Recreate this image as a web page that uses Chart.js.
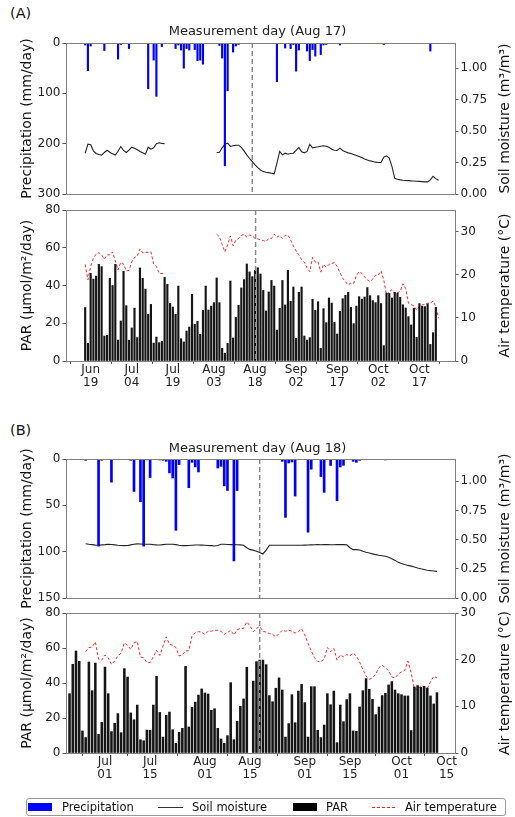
<!DOCTYPE html>
<html>
<head>
<meta charset="utf-8">
<script src="https://cdn.jsdelivr.net/npm/chart.js@4.4.0/dist/chart.umd.min.js"></script>
<style>
body { margin:0; background:#fff; width:515px; height:817px; position:relative; overflow:hidden; font-family:"DejaVu Sans", sans-serif; }
canvas { position:absolute; left:0; }
.lab { position:absolute; font-size:14.5px; color:#111; line-height:17px; }
#legend { position:absolute; left:26px; top:798px; width:478px; height:16px; border:1px solid #999; border-radius:3px; font-size:11.5px; line-height:16px; color:#111; }
#legend span { position:absolute; }
</style>
</head>
<body>
<div class="lab" style="left:10px;top:5px">(A)</div>
<div class="lab" style="left:10px;top:422px">(B)</div>
<canvas id="aTop" width="515" height="204" style="top:0px"></canvas>
<canvas id="aBot" width="515" height="201" style="top:200px"></canvas>
<canvas id="bTop" width="515" height="208" style="top:400px"></canvas>
<canvas id="bBot" width="515" height="190" style="top:603px"></canvas>
<div id="legend">
  <span style="left:1px;top:4px;width:24px;height:8px;background:#0000ff"></span>
  <span style="left:35px;top:0px">Precipitation</span>
  <span style="left:131px;top:8px;width:25px;height:0;border-top:1px solid #333"></span>
  <span style="left:165px;top:0px">Soil moisture</span>
  <span style="left:266px;top:4px;width:24px;height:8px;background:#000"></span>
  <span style="left:299px;top:0px">PAR</span>
  <span style="left:345px;top:7.5px;width:23px;height:1.5px;background:repeating-linear-gradient(90deg,#ff2020 0,#ff2020 3px,transparent 3px,transparent 5px)"></span>
  <span style="left:378px;top:0px">Air temperature</span>
</div>
<script>
// days counted from Jun 1 (= 1)

// ---- panel A ----
var xTicksA = [19, 34, 49, 64, 79, 94, 109, 124, 139];
var xLabelsA = ['Jun 19', 'Jul 04', 'Jul 19', 'Aug 03', 'Aug 18', 'Sep 02', 'Sep 17', 'Oct 02', 'Oct 17'];

var precipDaysA = [17, 18, 19, 24, 29, 30, 33, 40, 42, 43, 45, 50, 51, 52, 53, 54, 55, 57, 58, 59, 60, 66, 67, 68, 69, 71, 72, 73, 87, 90, 92, 93, 94, 95, 98, 99, 100, 101, 103, 104, 105, 110, 126, 143];
var precipA = [4, 55, 6, 15, 32, 3, 11, 91, 34, 106, 7, 11, 4, 14, 50, 11, 14, 13, 35, 34, 42, 5, 30, 244, 95, 18, 6, 3, 77, 10, 11, 3, 56, 14, 16, 35, 13, 26, 23, 4, 3, 4, 3, 16];

// soil moisture, day 17 onwards
var soilA = [0.324, 0.396, 0.391, 0.343, 0.322, 0.314, 0.309, 0.33, 0.348, 0.332,
  0.319, 0.309, 0.34, 0.378, 0.346, 0.33, 0.348, 0.372, 0.364, 0.351,
  0.338, 0.327, 0.316, 0.372, 0.356, 0.367, 0.399, 0.407, 0.402, 0.399,
  null, null, null, null, null, null, null, null, null, null,
  null, null, null, null, null, null, null, null,
  0.33, 0.332, 0.367, 0.396, 0.404, 0.378, 0.383, 0.388, 0.388, 0.37,
  0.343, 0.311, 0.282, 0.258, 0.231, 0.21, 0.191, 0.178, 0.173, 0.17,
  0.165, 0.16, 0.245, 0.338, 0.311, 0.324, 0.316, 0.322, 0.324, 0.346,
  0.37, 0.335, 0.327, 0.338, 0.394, 0.367, 0.372, 0.375, 0.38, 0.383,
  0.38, 0.372, 0.356, 0.348, 0.346, 0.364, 0.346, 0.335, 0.327, 0.322,
  0.314, 0.306, 0.298, 0.29, 0.279, 0.271, 0.263, 0.258, 0.253, 0.25,
  0.25, 0.293, 0.303, 0.285, 0.218, 0.125, 0.117, 0.112, 0.109, 0.107,
  0.106, 0.104, 0.103, 0.101, 0.1, 0.098, 0.096, 0.096, 0.112, 0.141,
  0.122, 0.109];

// PAR, day 17 onwards
var parA = [28.3, 9.4, 46.4, 43.4, 45, 51.2, 50, 13.2, 13.6, 43.8,
  40, 51.2, 11.1, 21.2, 47.5, 29.3, 11, 17.5, 28, 12.4,
  49.3, 43.8, 38.1, 24.7, 30, 9.5, 12.7, 9.7, 10.4, 44.3,
  40.6, 30.5, 28.6, 24.7, 39.7, 11.8, 10.1, 15.9, 18, 35.3,
  19.4, 21, 14.1, 26.8, 39.7, 27, 29.1, 30.9, 44, 30.9,
  6.7, 4.1, 9.4, 42.4, 12.2, 23.1, 29.5, 38.7, 43.1, 51.4,
  47.2, 44.7, 48, 49.4, 46.1, 37.4, 26.5, 36.6, 42.7, 39.7,
  16.4, 27.9, 42.7, 29.7, 48, 31.6, 39.2, 12, 36.4, 39.2,
  13.2, 11.1, 12.4, 32.7, 26.8, 31.4, 6.7, 27.7, 20.3, 33.4,
  30.7, 20.5, 14.3, 26.3, 33, 34.8, 36.4, 28.4, 19.8, 29.1,
  34.1, 32.8, 33.9, 38.9, 34.6, 32, 30.9, 34.6, 30.4, 8.1,
  36, 35.8, 33.4, 36.4, 36, 33.7, 29.8, 28.1, 23.5, 19.1,
  27.9, 12.5, 30.4, 29, 28.8, 30.2, 8.8, 15, 28.4];

// air temperature, day 17 onwards
var tempA = [22.4, 18.8, 21.9, 23.8, 24.8, 25.1, 24.6, 23.6, 24.6, 24.6,
  25.3, 23.2, 21.1, 22.9, 22.5, 20.9, 21, 23, 24, 24.3,
  26, 25.1, 25.2, 25.2, 25.3, 22.5, 21.9, 20.3, 20.3, 20.3,
  null, null, null, null, null, null, null, null, null, null,
  null, null, null, null, null, null, null, null,
  29.4, 28.8, 27, 25.3, 26.9, 29, 26.7, 28, 28.4, 29.1,
  29.4, 28.7, 29.2, 29, 28.4, 28.3, 28.1, 27.9, 27.7, 28.4,
  28.4, 29.4, 28.7, 29.1, 28.4, 29.1, 29.2, 28, 26.7, 25.5,
  24.6, 23.5, 22.9, 21.6, 20.7, 24, 22.9, 23, 20.6, 22.4,
  21.7, 22.4, 22.6, 22.8, 21.9, 20.5, 19.2, 18.4, 17.6, 18.1,
  18, 19.8, 20.7, 20.3, 19.5, 18.8, 18.4, 19, 19.9, 19.9,
  20.9, 18.8, 15.3, 16.1, 16.5, 15.5, 15.8, 16.2, 17.9, 16.8,
  13.4, 13.1, 12.8, 11.8, 12.6, 13, 13.1, 13.4, 13.4, 13.9,
  12.6, 9.9];

// ---- panel B ----
var xTicksB = [31, 45, 62, 76, 93, 107, 123, 137];
var xLabelsB = ['Jul 01', 'Jul 15', 'Aug 01', 'Aug 15', 'Sep 01', 'Sep 15', 'Oct 01', 'Oct 15'];

var precipDaysB = [25, 29, 30, 33, 39, 40, 42, 43, 44, 45, 48, 49, 50, 51, 52, 53, 54, 57, 58, 59, 60, 66, 67, 68, 69, 71, 72, 86, 87, 88, 89, 90, 94, 95, 98, 99, 101, 103, 104, 105, 108, 109, 110, 116, 118];
var precipB = [1.4, 94, 1.4, 25, 1.4, 35, 46, 94, 1, 20, 1, 1.4, 2.5, 15, 20.5, 77, 6, 31, 3.6, 8.6, 14, 9.7, 8, 29, 34, 110, 34, 2.5, 63, 4.3, 3.2, 40, 79, 11, 19, 36, 7, 45, 8.6, 6.8, 2.5, 3.6, 1.4, 0.7, 1];

// soil moisture, day 25 onwards
var soilB = [0.465, 0.46, 0.457, 0.453, 0.451, 0.455, 0.457, 0.46, 0.458, 0.455,
  0.452, 0.45, 0.448, 0.45, 0.455, 0.46, 0.463, 0.462, 0.46, 0.46,
  0.46, 0.457, 0.455, 0.454, 0.457, 0.46, 0.46, 0.46, 0.457, 0.452,
  0.448, 0.448, 0.45, 0.452, 0.454, 0.454, 0.453, 0.452, 0.45, 0.448,
  0.445, 0.45, 0.46, 0.46, 0.458, 0.457, 0.457, 0.456, 0.455, 0.452,
  0.43, 0.414, 0.41, 0.4, 0.39, 0.377, 0.41, 0.451, 0.451, 0.451,
  0.451, 0.451, 0.451, 0.452, 0.451, 0.451, 0.452, 0.452, 0.453, 0.454,
  0.455, 0.456, 0.457, 0.456, 0.457, 0.457, 0.456, 0.456, 0.457, 0.457,
  0.457, 0.455, 0.43, 0.414, 0.414, 0.411, 0.4, 0.391, 0.385, 0.378,
  0.371, 0.366, 0.362, 0.357, 0.348, 0.336, 0.322, 0.305, 0.295, 0.286,
  0.279, 0.273, 0.266, 0.257, 0.25, 0.244, 0.238, 0.234, 0.231, 0.228];

// PAR, day 20 onwards
var parB = [33.9, 50.7, 58.3, 52.4, 12.6, 8.8, 52, 35.6, 51.4, 10.7,
  17.5, 49.1, 33.9, 12.2, 17, 22.5, 11.6, 48.2, 43.4, 22.9,
  19, 27.4, 7.6, 7, 13.1, 13, 27.4, 43.8, 23.2, 9.1,
  21.5, 23.4, 13.3, 5.5, 11.8, 14.1, 49.5, 14.9, 26.1, 29.1,
  33.1, 36.6, 34.3, 33.7, 24.4, 25.3, 14.1, 8, 5.5, 9.9,
  40.2, 7.6, 18.1, 26.7, 30.9, 49, null, 41.1, 52.2, 53.1,
  53.1, 50.5, 32.8, 29.3, 37, 42.9, 36, 9.1, 16.8, 33.3,
  17.3, 35.4, 39.2, 28.8, 9.1, 37.9, 37.9, 13, 8.8, 16,
  33.9, 27.6, 35.4, 5.9, 27.4, 17.9, 30.5, 33.9, 12.6, 12.4,
  26.3, 35.6, 42.5, 36.4, 30.7, 21.9, 26.3, 32.8, 34.1, 38.9,
  40.8, 36, 33.9, 33.3, 32.6, 32.6, 12.8, 37.7, 38.5, 37.5,
  38.1, 37.1, 32.6, 28, 34.5];

// air temperature, day 25 onwards
var tempB = [21.7, 22.6, 22.7, 23.8, 20.1, 19.9, 21, 20.4, 19, 19.7,
  20.8, 21.4, 23.6, 23.1, 22.2, 23.6, 23.9, 20.6, 20.4, 19.4,
  19.4, 20.6, 22, 20.9, 22.9, 24.9, 23.3, 23.1, 22.6, 20.8,
  21, 21.9, 21.9, 25.1, 25.8, 26, 25.9, 25.4, 26.1, 26.1,
  26.3, 26.3, 26.1, 25.4, 25.8, 26.3, 25.3, 26.4, 26.7, 26.7,
  28.1, 27.2, 26, 26.7, 27.1, 26.1, 25.9, 25.6, 25.4, 24.9,
  25.6, 26.3, 26.1, 26.3, 26.1, 25.7, 26, 26.6, 25.3, 23.5,
  21.9, 20.4, 19.6, 19.6, 20.1, 22.6, 21.7, 22.4, 19.9, 21,
  20.6, 21.1, 20.8, 21.4, 20.8, 19.5, 17.9, 16.5, 15.8, 16.1,
  16.9, 18.3, 18.8, 18.3, 17.6, 16.3, 16.1, 16.9, 17.4, 17.7,
  19.7, 17.2, 13.8, 13.6, 14.4, 14, 13.8, 15.3, 16.4, 16.1];

Chart.defaults.font.family = 'DejaVu Sans';
Chart.defaults.color = '#222';

function series(start, vals) {
  return vals.map(function (v, i) { return { x: start + i, y: v }; });
}
function pairs(days, vals) {
  return days.map(function (d, i) { return { x: d, y: vals[i] }; });
}
function fixW(w) { return function (s) { s.width = w; }; }
function fixH(h) { return function (s) { s.height = h; }; }
function setTicks(list) {
  return function (s) { s.ticks = list.map(function (v) { return { value: v }; }); };
}

// box round the plot area, dashed measurement-day line, right axis title (reads upwards like matplotlib)
var framePlugin = {
  id: 'frame',
  afterDatasetsDraw: function (chart, args, opts) {
    var a = chart.chartArea, ctx = chart.ctx;
    ctx.save();
    if (opts.day != null) {
      var x = chart.scales.x.getPixelForValue(opts.day);
      ctx.strokeStyle = '#8a8a8a';
      ctx.lineWidth = 1.5;
      ctx.setLineDash([5, 3]);
      ctx.beginPath();
      ctx.moveTo(x, a.top);
      ctx.lineTo(x, a.bottom);
      ctx.stroke();
    }
    ctx.setLineDash([]);
    ctx.strokeStyle = '#808080';
    ctx.lineWidth = 1;
    ctx.strokeRect(Math.round(a.left) + 0.5, Math.round(a.top) + 0.5, Math.round(a.right - a.left), Math.round(a.bottom - a.top));
    ctx.restore();
  },
  afterDraw: function (chart, args, opts) {
    if (!opts.rightTitle) return;
    var a = chart.chartArea, ctx = chart.ctx;
    ctx.save();
    ctx.translate(505, (a.top + a.bottom) / 2);
    ctx.rotate(-Math.PI / 2);
    ctx.textAlign = 'center';
    ctx.textBaseline = 'middle';
    ctx.font = '14px "DejaVu Sans"';
    ctx.fillStyle = '#111';
    ctx.fillText(opts.rightTitle, 0, 0);
    ctx.restore();
  }
};

var tickGrid = { drawOnChartArea: false, drawTicks: true, tickLength: 3.5, color: '#555' };

function leftAxis(min, max, step, reverse, title) {
  return {
    position: 'left', min: min, max: max, reverse: reverse,
    ticks: { stepSize: step, padding: 2, font: { size: 12 }, color: '#222' },
    grid: tickGrid, border: { display: false },
    title: { display: true, text: title, font: { size: 14 }, color: '#111', padding: { top: 18.6, bottom: 0 } },
    afterFit: fixW(66)
  };
}
function rightAxis(min, max, ticks, digits) {
  return {
    position: 'right', min: min, max: max,
    afterBuildTicks: setTicks(ticks),
    ticks: { padding: 2, font: { size: 12 }, color: '#222', callback: function (v) { return Number(v).toFixed(digits); } },
    grid: tickGrid, border: { display: false },
    afterFit: fixW(60)
  };
}
function dateAxis(min, max, ticks, labels) {
  return {
    type: 'linear', min: min, max: max, offset: false,
    afterBuildTicks: setTicks(ticks),
    ticks: {
      autoSkip: false, maxRotation: 0, padding: 0, font: { size: 12, lineHeight: 1.05 }, color: '#222',
      callback: function (v) { var i = ticks.indexOf(v); return i < 0 ? '' : labels[i].split(' '); }
    },
    grid: { drawOnChartArea: false, drawTicks: true, tickLength: 3, color: '#555' },
    border: { display: false },
    afterFit: fixH(40)
  };
}

function topChart(id, xmin, xmax, pDays, pVals, pWidth, soilStart, soil, pMax, sMax, title, titlePad, day) {
  return new Chart(document.getElementById(id), {
    type: 'bar',
    data: {
      datasets: [
        { type: 'bar', label: 'Precipitation', data: pairs(pDays, pVals), backgroundColor: '#0000ff', barThickness: pWidth, yAxisID: 'y' },
        { type: 'line', label: 'Soil moisture', data: series(soilStart, soil), borderColor: '#222', borderWidth: 1.1, pointRadius: 0, tension: 0, spanGaps: false, yAxisID: 'y1' }
      ]
    },
    options: {
      responsive: false, animation: false,
      layout: { padding: { top: 0, bottom: 10, left: 0, right: 0 } },
      plugins: {
        legend: { display: false }, tooltip: { enabled: false },
        title: { display: true, text: title, font: { size: 13, weight: 'normal' }, color: '#222', padding: titlePad },
        frame: { day: day, rightTitle: 'Soil moisture (m\u00b3/m\u00b3)' }
      },
      scales: {
        x: { type: 'linear', min: xmin, max: xmax, offset: false, display: false },
        y: leftAxis(0, pMax, pMax / 3, true, 'Precipitation (mm/day)'),
        y1: rightAxis(0, sMax, [0, 0.25, 0.5, 0.75, 1], 2)
      }
    },
    plugins: [framePlugin]
  });
}

function bottomChart(id, xmin, xmax, xt, xl, parStart, par, parWidth, tStart, temp, tMax, tTicks, day) {
  return new Chart(document.getElementById(id), {
    type: 'bar',
    data: {
      datasets: [
        { type: 'bar', label: 'PAR', data: series(parStart, par), backgroundColor: '#151515', barThickness: parWidth, yAxisID: 'y' },
        { type: 'line', label: 'Air temperature', data: series(tStart, temp), borderColor: 'rgba(255,0,0,0.85)', borderWidth: 1, borderDash: [3, 2], pointRadius: 0, tension: 0, spanGaps: false, yAxisID: 'y1' }
      ]
    },
    options: {
      responsive: false, animation: false,
      layout: { padding: { top: 10, bottom: 0, left: 0, right: 0 } },
      plugins: {
        legend: { display: false }, tooltip: { enabled: false },
        frame: { day: day, rightTitle: 'Air temperature (\u00b0C)' }
      },
      scales: {
        x: dateAxis(xmin, xmax, xt, xl),
        y: leftAxis(0, 80, 20, false, 'PAR (\u00b5mol/m\u00b2/day)'),
        y1: rightAxis(0, tMax, tTicks, 0)
      }
    },
    plugins: [framePlugin]
  });
}

topChart('aTop', 10, 152, precipDaysA, precipA, 1.5, 17, soilA, 300, 1.2,
  'Measurement day (Aug 17)', { top: 24.2, bottom: 3.2 }, 78);
bottomChart('aBot', 10, 152, xTicksA, xLabelsA, 17, parA, 1.5, 17, tempA, 35, [0, 10, 20, 30], 79.2);
topChart('bTop', 18.9, 139.6, precipDaysB, precipB, 2, 25, soilB, 150, 1.19,
  'Measurement day (Aug 18)', { top: 40.5, bottom: 2.9 }, 79);
bottomChart('bBot', 18.9, 139.6, xTicksB, xLabelsB, 20, parB, 1.9, 25, tempB, 30, [0, 10, 20, 30], 79);
</script>
</body>
</html>
